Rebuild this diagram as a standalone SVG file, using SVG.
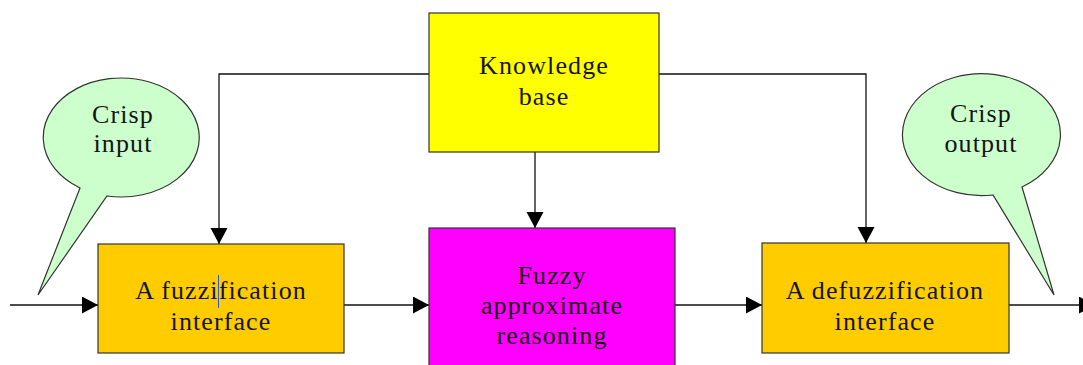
<svg xmlns="http://www.w3.org/2000/svg" width="1083" height="365" viewBox="0 0 1083 365">
  <style>
    .box { stroke: #333; stroke-width: 1.2; }
    .callout { fill: #ccffcc; stroke: #333; stroke-width: 1.2; }
    .lbl { font-family: "Liberation Serif", "Times New Roman", serif; font-size: 26px; letter-spacing: 1.1px; fill: #141414; text-anchor: middle; }
    .conn { fill: none; stroke: #111; stroke-width: 1.3; marker-end: url(#arrow); }
  </style>
  <defs>
    <marker id="arrow" markerUnits="userSpaceOnUse" markerWidth="17" markerHeight="18" refX="16" refY="8.5" orient="auto">
      <path d="M0,0 L16,8.5 L0,17 Z" fill="#000"/>
    </marker>
  </defs>
  <rect width="1083" height="365" fill="#fff"/>

  <g id="connectors">
    <path class="conn" d="M429,74 H219 V244"/>
    <path class="conn" d="M659,74 H866 V243"/>
    <path class="conn" d="M535,152 V228"/>
    <path class="conn" d="M10,305 H98"/>
    <path class="conn" d="M344,305 H429"/>
    <path class="conn" d="M675,305 H762"/>
    <path class="conn" d="M1009,305 H1095"/>
  </g>

  <g id="knowledge-base">
    <rect class="box" x="429" y="13" width="230" height="139" fill="#ffff00"/>
    <text class="lbl" x="544" y="74">Knowledge</text>
    <text class="lbl" x="544" y="105">base</text>
  </g>

  <g id="fuzzification">
    <rect class="box" x="98" y="244" width="246" height="109" fill="#ffcc00"/>
    <text class="lbl" x="221" y="299">A fuzzification</text>
    <text class="lbl" x="221" y="330">interface</text>
    <line x1="218.5" y1="275" x2="218.5" y2="308" stroke="#3355cc" stroke-width="1"/>
  </g>

  <g id="reasoning">
    <rect class="box" x="429" y="228" width="246" height="150" fill="#ff00ff"/>
    <text class="lbl" x="552" y="284">Fuzzy</text>
    <text class="lbl" x="552" y="314">approximate</text>
    <text class="lbl" x="552" y="344">reasoning</text>
  </g>

  <g id="defuzzification">
    <rect class="box" x="762" y="243" width="247" height="110" fill="#ffcc00"/>
    <text class="lbl" x="885" y="299">A defuzzification</text>
    <text class="lbl" x="885" y="330">interface</text>
  </g>

  <g id="crisp-input">
    <path class="callout" d="M107,196 A78,59.5 0 1 0 80,188 L38,295 Z"/>
    <text class="lbl" x="123" y="123">Crisp</text>
    <text class="lbl" x="123" y="152">input</text>
  </g>

  <g id="crisp-output">
    <path class="callout" d="M993,195 A79,61 0 1 1 1022,187 L1054,295 Z"/>
    <text class="lbl" x="981" y="122">Crisp</text>
    <text class="lbl" x="981" y="152">output</text>
  </g>
</svg>
